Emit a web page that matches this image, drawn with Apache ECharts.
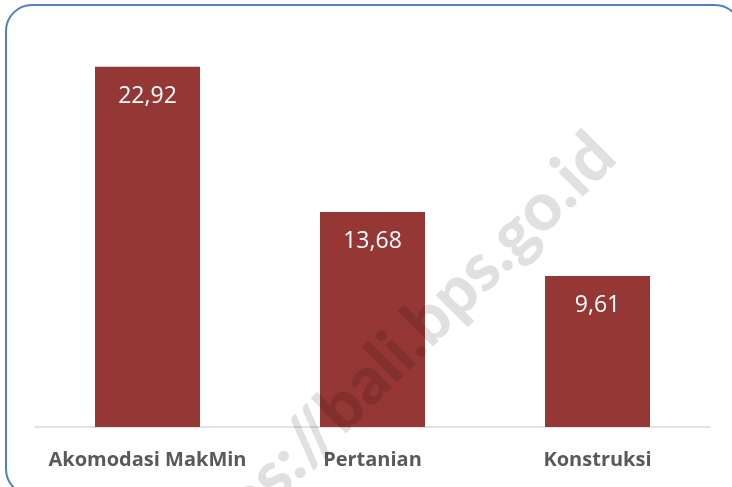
<!DOCTYPE html>
<html>
<head>
<meta charset="utf-8">
<script src="https://cdn.jsdelivr.net/npm/echarts@6/dist/echarts.min.js"></script>
<style>
  html, body { margin: 0; padding: 0; background: #fff; }
  #chart { width: 732px; height: 487px; }
</style>
</head>
<body>
<div id="chart"></div>
<script>
// data
const categories = ['Akomodasi MakMin', 'Pertanian', 'Konstruksi']
const values = [22.92, 13.68, 9.61]
const watermark = 'https://bali.bps.go.id'

const barColor = '#953735'
const chart = echarts.init(document.getElementById('chart'))

const option = {
  animation: false,
  grid: {
    top: 34,
    left: 35,
    right: 22,
    bottom: 60,
  },
  xAxis: {
    type: 'category',
    data: categories,
    axisTick: { show: false },
    axisLine: { lineStyle: { color: '#d9d9d9', width: 1.5 } },
    axisLabel: {
      interval: 0,
      margin: 23,
      color: '#595959',
      fontFamily: 'Open Sans',
      fontWeight: 'bold',
      fontSize: 20,
    },
  },
  yAxis: {
    type: 'value',
    min: 0,
    max: 25,
    show: false,
    splitLine: { show: false },
  },
  series: [
    {
      type: 'bar',
      data: values,
      barWidth: 105,
      itemStyle: { color: barColor },
      label: {
        show: true,
        position: 'insideTop',
        distance: 18,
        color: '#ffffff',
        fontFamily: 'Open Sans',
        fontSize: 23,
        formatter: (p) => p.value.toFixed(2).replace('.', ','),
      },
      z: 2,
    },
  ],
  graphic: [
    {
      type: 'rect',
      shape: { x: 6, y: 5, width: 735, height: 490, r: 26 },
      style: { fill: 'none', stroke: '#4f81bd', lineWidth: 2 },
      silent: true,
      z: 10,
    },
    {
      // watermark, anchored at the end of the text
      type: 'text',
      x: 604,
      y: 145,
      rotation: 45 * Math.PI / 180,
      style: {
        text: watermark,
        fill: 'rgba(0,0,0,0.12)',
        font: '900 67px Lato',
        align: 'right',
        verticalAlign: 'middle',
      },
      silent: true,
      z: 20,
    },
  ],
}

chart.setOption(option)
</script>
</body>
</html>
